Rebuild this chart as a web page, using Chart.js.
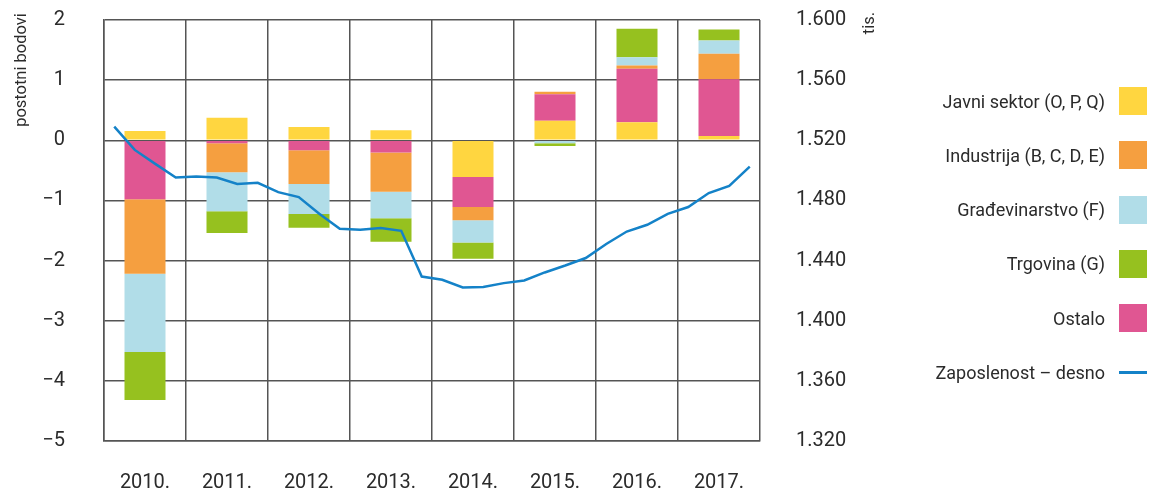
<!DOCTYPE html>
<html>
<head>
<meta charset="utf-8">
<script src="https://cdn.jsdelivr.net/npm/chart.js@4"></script>
<style>
  body { margin: 0; background: #fff; }
  #wrap { position: relative; width: 1153px; height: 498px; }
  #legenda { position: absolute; left: 900px; top: 0; width: 253px; font-family: Roboto, sans-serif; font-size: 18px; color: #2b2b2b; }
  .stavka { position: absolute; right: 6px; height: 28px; display: flex; align-items: center; }
  .stavka span { margin-right: 14px; white-space: nowrap; }
  .kutija { width: 28px; height: 28px; }
  .crta { width: 28px; height: 3px; }
</style>
</head>
<body>
<div id="wrap">
  <canvas id="grafikon" width="1153" height="498"></canvas>
  <div id="legenda"></div>
</div>
<script>
const godine = ["2010.", "2011.", "2012.", "2013.", "2014.", "2015.", "2016.", "2017."];

// doprinosi, postotni bodovi
const javniSektor = [0.155, 0.375, 0.22, 0.165, -0.61, 0.325, 0.30, 0.07];
const ostalo = [-0.98, -0.05, -0.165, -0.205, -0.50, 0.44, 0.89, 0.945];
const industrija = [-1.24, -0.48, -0.56, -0.65, -0.22, 0.04, 0.055, 0.425];
const gradjevinarstvo = [-1.30, -0.65, -0.50, -0.44, -0.37, -0.05, 0.135, 0.22];
const trgovina = [-0.80, -0.36, -0.23, -0.39, -0.27, -0.045, 0.475, 0.18];

// zaposlenost po tromjesecjima, tis.
const kvartali = [];
godine.forEach((g) => { for (let q = 1; q <= 4; q++) kvartali.push(q + "/" + g); });
const zaposlenost = [
  1529.1, 1513.6, 1504.3, 1495.2,
  1495.9, 1495.2, 1491.0, 1491.7,
  1485.5, 1482.2, 1471.1, 1461.1,
  1460.5, 1461.6, 1459.8, 1429.4,
  1427.2, 1422.1, 1422.4, 1425.0,
  1426.8, 1432.1, 1436.7, 1441.7,
  1451.0, 1459.3, 1463.8, 1471.1,
  1475.6, 1484.9, 1489.7, 1502.5
];

const boje = {
  javni: "rgb(255, 214, 64)",
  industrija: "rgb(245, 159, 64)",
  gradj: "rgb(177, 221, 232)",
  trgovina: "rgb(150, 193, 31)",
  ostalo: "rgb(224, 86, 146)",
  linija: "rgb(20, 130, 200)",
};

const mreza = "#555";
const tekst = "#2b2b2b";

// naslovi osi
const nasloviOsi = {
  id: "nasloviOsi",
  afterDraw(chart) {
    const ctx = chart.ctx;
    ctx.save();
    ctx.fillStyle = tekst;
    ctx.font = "16.5px Roboto";
    ctx.textAlign = "center";
    ctx.textBaseline = "middle";
    ctx.translate(22, 70);
    ctx.rotate(-Math.PI / 2);
    ctx.fillText("postotni bodovi", 0, 0);
    ctx.restore();
    ctx.save();
    ctx.fillStyle = tekst;
    ctx.font = "16.5px Roboto";
    ctx.textAlign = "center";
    ctx.textBaseline = "middle";
    ctx.translate(870, 23);
    ctx.rotate(-Math.PI / 2);
    ctx.fillText("tis.", 0, 0);
    ctx.restore();
  },
};

const stupac = (label, data, boja) => ({
  type: "bar",
  label: label,
  data: data,
  backgroundColor: boja,
  borderWidth: 0,
  barPercentage: 0.5,
  categoryPercentage: 1,
  stack: "sektori",
  grouped: false,
  xAxisID: "x",
  yAxisID: "y",
  order: 1,
});

const bezVertPadinga = (s) => { s.paddingTop = 0; s.paddingBottom = 0; };

const ctx = document.getElementById("grafikon").getContext("2d");
const grafikon = new Chart(ctx, {
  type: "bar",
  data: {
    labels: godine,
    datasets: [
      stupac("Javni sektor (O, P, Q)", javniSektor, boje.javni),
      stupac("Ostalo", ostalo, boje.ostalo),
      stupac("Industrija (B, C, D, E)", industrija, boje.industrija),
      stupac("Građevinarstvo (F)", gradjevinarstvo, boje.gradj),
      stupac("Trgovina (G)", trgovina, boje.trgovina),
      {
        type: "line",
        label: "Zaposlenost – desno",
        data: zaposlenost,
        borderColor: boje.linija,
        borderWidth: 2.5,
        pointRadius: 0,
        tension: 0,
        fill: false,
        xAxisID: "x2",
        yAxisID: "y1",
        order: 0,
      },
    ],
  },
  options: {
    responsive: false,
    animation: false,
    devicePixelRatio: 1,
    layout: { padding: { left: 0, top: 20, right: 293, bottom: 7 } },
    plugins: { legend: { display: false }, tooltip: { enabled: false } },
    scales: {
      x: {
        stacked: true,
        offset: true,
        grid: { color: mreza, lineWidth: 1.5, offset: true, drawTicks: false },
        border: { color: mreza, width: 1.5 },
        ticks: { color: tekst, font: { family: "Roboto", size: 20 }, padding: 30 },
        afterFit: (s) => { s.height = 50; },
      },
      x2: {
        type: "category",
        labels: kvartali,
        offset: true,
        display: false,
      },
      y: {
        stacked: true,
        min: -5,
        max: 2,
        position: "left",
        grid: { color: mreza, lineWidth: 1.5, drawTicks: false },
        border: { color: mreza, width: 1.5 },
        ticks: {
          stepSize: 1,
          color: tekst,
          font: { family: "Roboto", size: 20 },
          padding: 39,
          callback: (v) => (v < 0 ? "\u2212" + Math.abs(v) : String(v)),
        },
        afterFit: (s) => { s.width = 104; bezVertPadinga(s); },
      },
      y1: {
        min: 1320,
        max: 1600,
        position: "right",
        grid: { display: false, drawTicks: false },
        border: { display: false },
        ticks: {
          stepSize: 40,
          color: tekst,
          font: { family: "Roboto", size: 20 },
          padding: 36,
          callback: (v) => Math.floor(v / 1000) + "." + String(v % 1000).padStart(3, "0"),
        },
        afterFit: (s) => { s.width = 100; bezVertPadinga(s); },
      },
    },
  },
  plugins: [nasloviOsi],
});

// legenda
const stavke = [
  ["Javni sektor (O, P, Q)", boje.javni, false],
  ["Industrija (B, C, D, E)", boje.industrija, false],
  ["Građevinarstvo (F)", boje.gradj, false],
  ["Trgovina (G)", boje.trgovina, false],
  ["Ostalo", boje.ostalo, false],
  ["Zaposlenost – desno", boje.linija, true],
];
const legenda = document.getElementById("legenda");
stavke.forEach((s, i) => {
  const d = document.createElement("div");
  d.className = "stavka";
  d.style.top = (87 + i * 54.3) + "px";
  const t = document.createElement("span");
  t.textContent = s[0];
  const k = document.createElement("div");
  k.className = s[2] ? "crta" : "kutija";
  k.style.background = s[1];
  d.appendChild(t);
  d.appendChild(k);
  legenda.appendChild(d);
});
</script>
</body>
</html>
